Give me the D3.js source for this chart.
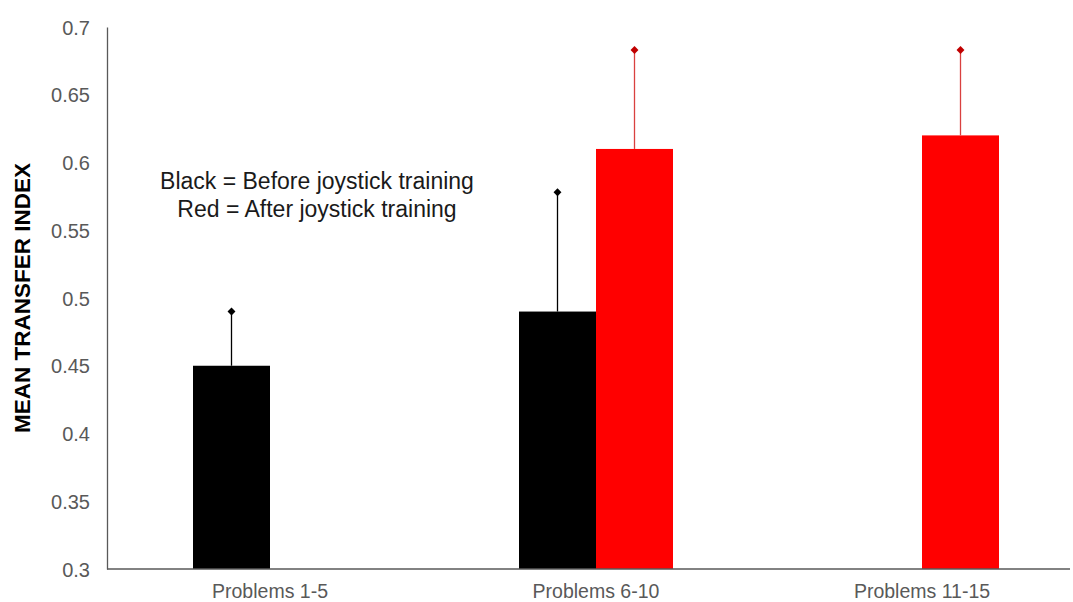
<!DOCTYPE html>
<html>
<head>
<meta charset="utf-8">
<script src="https://cdn.jsdelivr.net/npm/d3@7"></script>
<style>
  body { margin: 0; background: #fff; }
  svg { display: block; font-family: "Liberation Sans", Arial, sans-serif; }
</style>
</head>
<body>
<div id="chart"></div>
<script>
  // values
  const categories = ["Problems 1-5", "Problems 6-10", "Problems 11-15"];
  const beforeValues = [0.45, 0.49, null];
  const beforeErrors = [0.04, 0.088, null];
  const afterValues = [null, 0.61, 0.62];
  const afterErrors = [null, 0.073, 0.063];
  const yTicks = [0.3, 0.35, 0.4, 0.45, 0.5, 0.55, 0.6, 0.65, 0.7];

  const width = 1073, height = 602;

  const series = [
    { key: "before", values: beforeValues, errors: beforeErrors, fill: "#000000", line: "#000000", cap: "#000000" },
    { key: "after", values: afterValues, errors: afterErrors, fill: "#ff0000", line: "#d9403f", cap: "#c00000" }
  ];

  let svg = d3.select("#chart")
    .append("svg")
    .attr("width", width)
    .attr("height", height);

  let x0 = d3.scaleBand()
    .domain(categories)
    .range([107, 1085]);

  let barW = 77;
  let x1 = d3.scaleBand()
    .domain(series.map(s => s.key))
    .range([x0.bandwidth() / 2 - barW, x0.bandwidth() / 2 + barW]);

  let y = d3.scaleLinear()
    .domain([0.3, 0.7])
    .range([569, 27]);

  // bars
  series.forEach(function (s) {
    let rows = categories.map((c, i) => ({ cat: c, v: s.values[i], e: s.errors[i] }))
      .filter(d => d.v != null);

    let g = svg.append("g").attr("class", "series-" + s.key);

    g.selectAll("rect")
      .data(rows)
      .enter()
      .append("rect")
      .attr("x", d => x0(d.cat) + x1(s.key))
      .attr("y", d => y(d.v))
      .attr("width", x1.bandwidth())
      .attr("height", d => y(0.3) - y(d.v))
      .attr("fill", s.fill);

    // error bars (upper only)
    g.selectAll("line.err")
      .data(rows)
      .enter()
      .append("line")
      .attr("class", "err")
      .attr("x1", d => x0(d.cat) + x1(s.key) + x1.bandwidth() / 2)
      .attr("x2", d => x0(d.cat) + x1(s.key) + x1.bandwidth() / 2)
      .attr("y1", d => y(d.v))
      .attr("y2", d => y(d.v + d.e))
      .attr("stroke", s.line)
      .attr("stroke-width", 1.3);

    g.selectAll("path.cap")
      .data(rows)
      .enter()
      .append("path")
      .attr("class", "cap")
      .attr("d", d3.symbol(d3.symbolDiamond2, 40))
      .attr("transform", d => "translate(" + (x0(d.cat) + x1(s.key) + x1.bandwidth() / 2) + "," + y(d.v + d.e) + ")")
      .attr("fill", s.cap);
  });

  // y axis
  let yAxis = svg.append("g")
    .attr("transform", "translate(107,0)")
    .call(d3.axisLeft(y).tickValues(yTicks).tickSize(0).tickPadding(17).tickFormat(d3.format("")));
  yAxis.select(".domain").attr("stroke", "#595959").attr("stroke-width", 1.3);
  yAxis.selectAll("text")
    .attr("fill", "#595959")
    .style("font-size", "20px")
    .attr("dy", "0.35em");

  // x axis
  let xAxis = svg.append("g")
    .attr("transform", "translate(0,569)")
    .call(d3.axisBottom(x0).tickSize(0).tickPadding(15));
  xAxis.select(".domain").remove();
  xAxis.append("line")
    .attr("x1", 107).attr("x2", 1070)
    .attr("stroke", "#595959").attr("stroke-width", 1.3);
  xAxis.selectAll("text")
    .attr("fill", "#595959")
    .style("font-size", "19.5px");

  // y title
  svg.append("text")
    .attr("transform", "translate(30,298) rotate(-90)")
    .attr("text-anchor", "middle")
    .style("font-size", "22.5px")
    .style("font-weight", "bold")
    .attr("fill", "#000")
    .text("MEAN TRANSFER INDEX");

  // note
  let note = svg.append("text")
    .attr("text-anchor", "middle")
    .style("font-size", "23px")
    .attr("fill", "#1a1a1a");
  note.append("tspan").attr("x", 317).attr("y", 189).text("Black = Before joystick training");
  note.append("tspan").attr("x", 317).attr("y", 217).text("Red = After joystick training");
</script>
</body>
</html>
